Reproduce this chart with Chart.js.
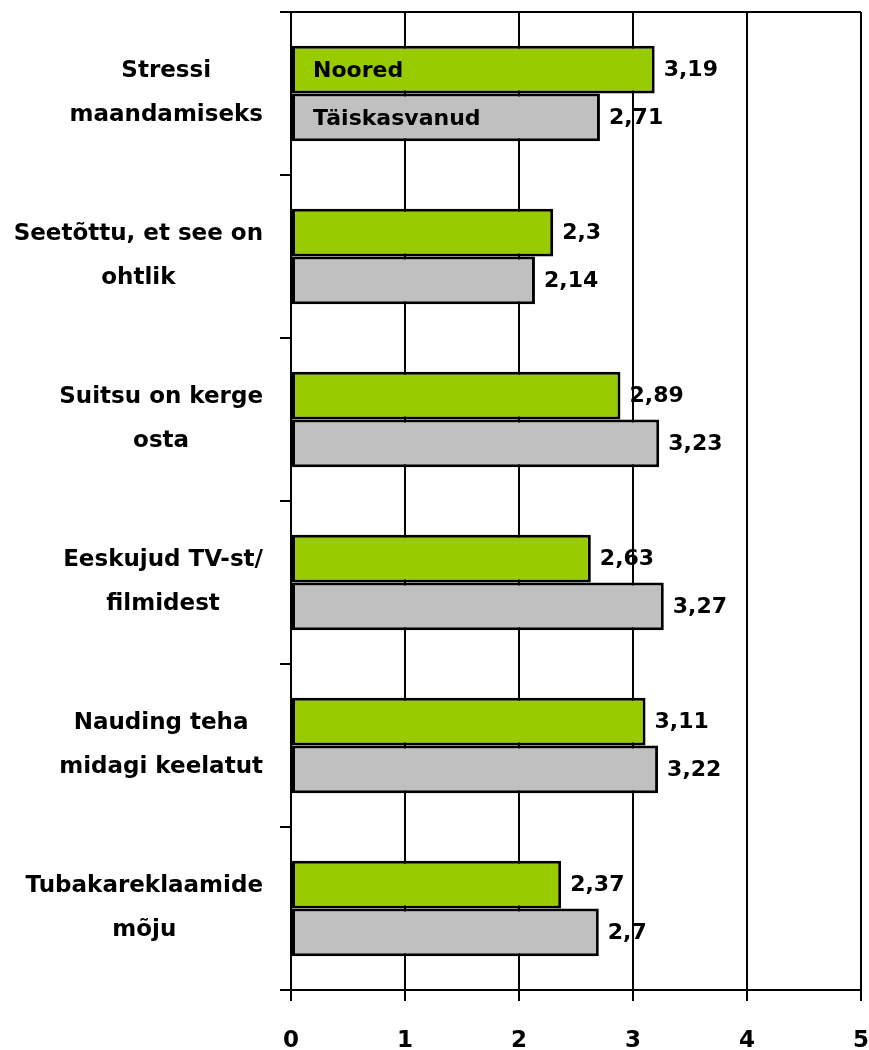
<!DOCTYPE html>
<html>
<head>
<meta charset="utf-8">
<script src="https://cdn.jsdelivr.net/npm/chart.js@4.4.1/dist/chart.umd.min.js"></script>
<style>
  body { margin: 0; background: #fff; }
</style>
</head>
<body>
<canvas id="grafica" width="869" height="1050"></canvas>
<script>
var kategooriad = [
    ['Stressi', 'maandamiseks'],
    ['Seetõttu, et see on', 'ohtlik'],
    ['Suitsu on kerge', 'osta'],
    ['Eeskujud TV-st/', 'filmidest'],
    ['Nauding teha', 'midagi keelatut'],
    ['Tubakareklaamide', 'mõju']
];
var noored = [3.19, 2.3, 2.89, 2.63, 3.11, 2.37];
var taiskasvanud = [2.71, 2.14, 3.23, 3.27, 3.22, 2.7];
var xTicks = [0, 1, 2, 3, 4, 5];

var FONT = "'DejaVu Sans', sans-serif";

// category labels: block right aligned, lines centered inside block
const kategooriaSildid = {
    id: 'kategooriaSildid',
    afterDraw(chart) {
        var ctx = chart.ctx;
        var yScale = chart.scales.y;
        var right = chart.chartArea.left - 28;
        ctx.save();
        ctx.font = 'bold 23px ' + FONT;
        ctx.fillStyle = '#000';
        ctx.textAlign = 'center';
        ctx.textBaseline = 'middle';
        for (var i = 0; i < kategooriad.length; i++) {
            var read = kategooriad[i];
            var maxW = 0;
            for (var j = 0; j < read.length; j++) {
                maxW = Math.max(maxW, ctx.measureText(read[j]).width);
            }
            var cx = right - maxW / 2;
            var cy = yScale.getPixelForValue(i);
            var lh = 44;
            var y0 = cy - (read.length - 1) * lh / 2;
            for (var j = 0; j < read.length; j++) {
                ctx.fillText(read[j], cx, y0 + j * lh);
            }
        }
        ctx.restore();
    }
};

// values next to bar ends + legend text inside first bars + top border
const vaartused = {
    id: 'vaartused',
    afterDatasetsDraw(chart) {
        var ctx = chart.ctx;
        var area = chart.chartArea;
        ctx.save();
        ctx.strokeStyle = '#000';
        ctx.lineWidth = 2;
        ctx.beginPath();
        ctx.moveTo(area.left, area.top);
        ctx.lineTo(area.right, area.top);
        ctx.stroke();

        ctx.font = 'bold 22px ' + FONT;
        ctx.fillStyle = '#000';
        ctx.textBaseline = 'middle';
        chart.data.datasets.forEach(function (ds, d) {
            var meta = chart.getDatasetMeta(d);
            meta.data.forEach(function (bar, i) {
                ctx.textAlign = 'left';
                ctx.fillText(String(ds.data[i]).replace('.', ','), bar.x + 9, bar.y + 1);
            });
            // legend entry written into the first bar
            ctx.fillText(ds.label, area.left + 22, meta.data[0].y + 2);
        });
        ctx.restore();
    }
};

var ctx = document.getElementById('grafica').getContext('2d');
var myChart = new Chart(ctx, {
    type: 'bar',
    data: {
        labels: kategooriad,
        datasets: [{
            label: 'Noored',
            data: noored,
            backgroundColor: '#99CC00',
            borderColor: '#000',
            borderWidth: 3,
            borderSkipped: false,
            categoryPercentage: 0.585,
            barPercentage: 1.0
        }, {
            label: 'Täiskasvanud',
            data: taiskasvanud,
            backgroundColor: '#C0C0C0',
            borderColor: '#000',
            borderWidth: 3,
            borderSkipped: false,
            categoryPercentage: 0.585,
            barPercentage: 1.0
        }]
    },
    options: {
        indexAxis: 'y',
        responsive: false,
        animation: false,
        layout: {
            padding: { left: 280, right: 8, top: 12, bottom: 0 }
        },
        scales: {
            x: {
                min: 0,
                max: 5,
                afterBuildTicks: function (scale) {
                    scale.ticks = xTicks.map(function (v) { return { value: v }; });
                },
                afterFit: function (scale) {
                    scale.height = 60;
                    scale.paddingLeft = 0;
                    scale.paddingRight = 0;
                },
                grid: {
                    color: '#000',
                    lineWidth: 2,
                    tickLength: 11,
                    tickColor: '#000'
                },
                border: { display: true, color: '#000', width: 2 },
                ticks: {
                    color: '#000',
                    font: { family: FONT, size: 23, weight: 'bold' },
                    padding: 26
                }
            },
            y: {
                afterFit: function (scale) { scale.width = 11; },
                grid: {
                    offset: true,
                    drawOnChartArea: false,
                    color: '#000',
                    lineWidth: 2,
                    tickLength: 11
                },
                border: { display: true, color: '#000', width: 2 },
                ticks: { display: false }
            }
        },
        plugins: {
            legend: { display: false },
            tooltip: { enabled: false }
        }
    },
    plugins: [kategooriaSildid, vaartused]
});
</script>
</body>
</html>
